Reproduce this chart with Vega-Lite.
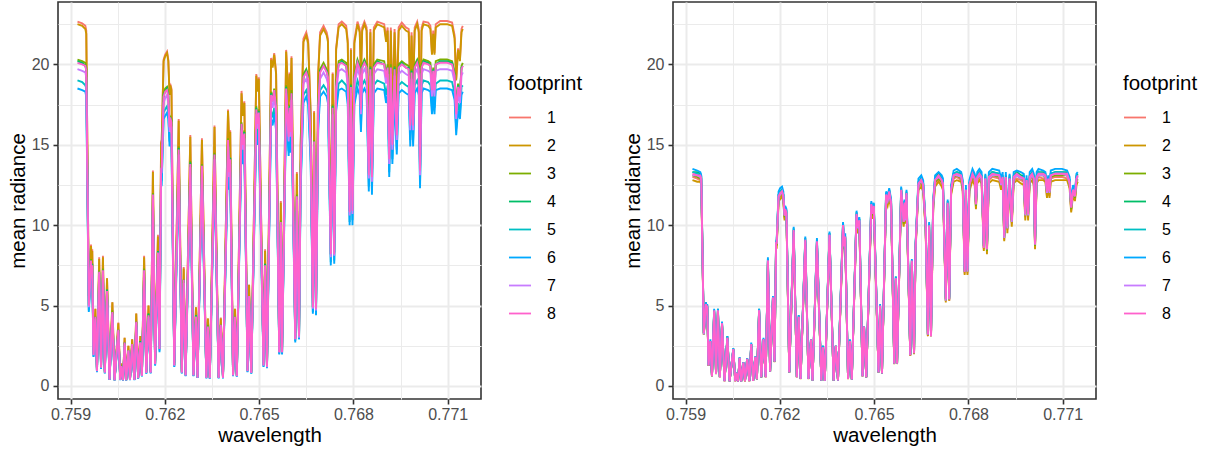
{
"$schema":"https://vega.github.io/schema/vega-lite/v6.json",
"padding":{"left":7,"top":1,"right":0,"bottom":0},
"config":{
"font":"Liberation Sans",
"view":{"stroke":"#333333","strokeWidth":1.6},
"axis":{"domain":false,"gridColor":"#EBEBEB","tickColor":"#333333","tickSize":5,"tickWidth":1.6,"labelColor":"#4D4D4D","labelFontSize":16,"titleFontSize":20.5,"titleFontWeight":"normal","titleColor":"#000000"},
"axisX":{"labelPadding":2,"titlePadding":3},
"axisY":{"labelPadding":4,"titlePadding":3},
"legend":{"orient":"none","legendX":450,"legendY":72,"direction":"vertical","symbolType":"stroke","symbolSize":484,"symbolStrokeWidth":1.8,"labelFontSize":16,"labelColor":"#000000","titleFontSize":20.5,"titleFontWeight":"normal","titleColor":"#000000","titlePadding":11,"rowPadding":8,"labelOffset":15,"padding":0}
},
"datasets":{
"left":[
{"w":0.75922,"1":22.66,"2":22.5,"3":20.3,"4":20.2,"5":19,"6":18.5,"7":19.7,"8":20.1},
{"w":0.75937,"1":22.55,"2":22.4,"3":20.2,"4":20.1,"5":18.9,"6":18.4,"7":19.6,"8":20},
{"w":0.75947,"1":22.4,"2":22.2,"3":20.1,"4":19.9,"5":18.7,"6":18.3,"7":19.5,"8":19.9},
{"w":0.7595,"1":22.1,"2":21.9,"3":19.8,"4":19.7,"5":18.5,"6":18,"7":19.2,"8":19.6},
{"w":0.75958,"1":5.6,"2":5.6,"3":5,"4":5,"5":4.7,"6":4.6,"7":4.9,"8":5},
{"w":0.75965,"1":8.8,"2":8.7,"3":7.9,"4":7.8,"5":7.4,"6":7.2,"7":7.6,"8":7.8},
{"w":0.75967,"1":7.9,"2":7.8,"3":7.1,"4":7,"5":6.6,"6":6.4,"7":6.9,"8":7},
{"w":0.75969,"1":8.5,"2":8.4,"3":7.6,"4":7.6,"5":7.1,"6":6.9,"7":7.4,"8":7.5},
{"w":0.75973,"1":2.2,"2":2.2,"3":2,"4":2,"5":1.84,"6":1.8,"7":1.91,"8":1.95},
{"w":0.75979,"1":4.8,"2":4.8,"3":4.3,"4":4.3,"5":4,"6":3.9,"7":4.2,"8":4.3},
{"w":0.75984,"1":1.05,"2":1.04,"3":0.94,"4":0.93,"5":0.88,"6":0.86,"7":0.91,"8":0.93},
{"w":0.75991,"1":8,"2":7.9,"3":7.2,"4":7.1,"5":6.7,"6":6.5,"7":7,"8":7.1},
{"w":0.75997,"1":1.3,"2":1.29,"3":1.16,"4":1.16,"5":1.09,"6":1.06,"7":1.13,"8":1.15},
{"w":0.76003,"1":8.1,"2":8,"3":7.3,"4":7.2,"5":6.8,"6":6.6,"7":7,"8":7.2},
{"w":0.76009,"1":0.95,"2":0.94,"3":0.85,"4":0.85,"5":0.8,"6":0.78,"7":0.83,"8":0.84},
{"w":0.76016,"1":6.7,"2":6.7,"3":6,"4":6,"5":5.6,"6":5.5,"7":5.8,"8":5.9},
{"w":0.76024,"1":0.45,"2":0.45,"3":0.4,"4":0.4,"5":0.38,"6":0.37,"7":0.39,"8":0.4},
{"w":0.76033,"1":5.2,"2":5.2,"3":4.7,"4":4.6,"5":4.4,"6":4.2,"7":4.5,"8":4.6},
{"w":0.7604,"1":0.38,"2":0.38,"3":0.36,"4":0.36,"5":0.35,"6":0.35,"7":0.36,"8":0.36},
{"w":0.76052,"1":3.95,"2":3.9,"3":3.5,"4":3.5,"5":3.3,"6":3.2,"7":3.4,"8":3.5},
{"w":0.76058,"1":0.42,"2":0.42,"3":0.39,"4":0.39,"5":0.37,"6":0.36,"7":0.38,"8":0.39},
{"w":0.76061,"1":1.4,"2":1.39,"3":1.25,"4":1.25,"5":1.17,"6":1.14,"7":1.22,"8":1.24},
{"w":0.76067,"1":0.38,"2":0.38,"3":0.36,"4":0.36,"5":0.35,"6":0.35,"7":0.36,"8":0.36},
{"w":0.76072,"1":3,"2":3,"3":2.7,"4":2.7,"5":2.5,"6":2.4,"7":2.6,"8":2.7},
{"w":0.76077,"1":0.38,"2":0.38,"3":0.36,"4":0.36,"5":0.35,"6":0.35,"7":0.36,"8":0.36},
{"w":0.76084,"1":2.5,"2":2.5,"3":2.2,"4":2.2,"5":2.1,"6":2,"7":2.2,"8":2.2},
{"w":0.76089,"1":0.42,"2":0.42,"3":0.39,"4":0.39,"5":0.37,"6":0.36,"7":0.38,"8":0.39},
{"w":0.76096,"1":2.9,"2":2.9,"3":2.6,"4":2.6,"5":2.4,"6":2.4,"7":2.5,"8":2.6},
{"w":0.76103,"1":0.42,"2":0.42,"3":0.39,"4":0.39,"5":0.37,"6":0.36,"7":0.38,"8":0.39},
{"w":0.76109,"1":4.5,"2":4.5,"3":4,"4":4,"5":3.8,"6":3.7,"7":3.9,"8":4},
{"w":0.76115,"1":0.55,"2":0.55,"3":0.49,"4":0.49,"5":0.46,"6":0.45,"7":0.48,"8":0.49},
{"w":0.76122,"1":3.1,"2":3.1,"3":2.8,"4":2.8,"5":2.6,"6":2.5,"7":2.7,"8":2.7},
{"w":0.76127,"1":0.72,"2":0.71,"3":0.65,"4":0.64,"5":0.6,"6":0.59,"7":0.63,"8":0.64},
{"w":0.76134,"1":8.1,"2":8,"3":7.3,"4":7.2,"5":6.8,"6":6.6,"7":7,"8":7.2},
{"w":0.76141,"1":0.93,"2":0.92,"3":0.83,"4":0.83,"5":0.78,"6":0.76,"7":0.81,"8":0.82},
{"w":0.76148,"1":5,"2":5,"3":4.5,"4":4.5,"5":4.2,"6":4.1,"7":4.3,"8":4.4},
{"w":0.76155,"1":0.95,"2":0.94,"3":0.85,"4":0.85,"5":0.8,"6":0.78,"7":0.83,"8":0.84},
{"w":0.76162,"1":13.4,"2":13.3,"3":12,"4":11.9,"5":11.2,"6":10.9,"7":11.6,"8":11.9},
{"w":0.76169,"1":1.55,"2":1.54,"3":1.39,"4":1.38,"5":1.3,"6":1.26,"7":1.35,"8":1.37},
{"w":0.76178,"1":9.4,"2":9.3,"3":8.4,"4":8.4,"5":7.9,"6":7.7,"7":8.2,"8":8.3},
{"w":0.76183,"1":2.6,"2":2.6,"3":2.3,"4":2.3,"5":2.2,"6":2.1,"7":2.3,"8":2.3},
{"w":0.76188,"1":15.2,"2":15.1,"3":13.6,"4":13.5,"5":12.7,"6":12.4,"7":13.2,"8":13.5},
{"w":0.7619,"1":15.3,"2":15.2,"3":13.7,"4":13.6,"5":12.8,"6":12.5,"7":13.3,"8":13.6},
{"w":0.76196,"1":20.3,"2":20.2,"3":18.2,"4":18.1,"5":17,"6":16.6,"7":17.6,"8":18},
{"w":0.76201,"1":20.6,"2":20.5,"3":18.5,"4":18.3,"5":17.2,"6":16.8,"7":17.9,"8":18.3},
{"w":0.76207,"1":20.8,"2":20.7,"3":18.6,"4":18.5,"5":17.4,"6":17,"7":18.1,"8":18.4},
{"w":0.76211,"1":20.3,"2":20.2,"3":18.2,"4":18.1,"5":17,"6":16.6,"7":17.6,"8":18},
{"w":0.76215,"1":18.2,"2":18.1,"3":16.3,"4":16.2,"5":15.2,"6":14.9,"7":15.8,"8":16.1},
{"w":0.76217,"1":18.8,"2":18.7,"3":16.8,"4":16.7,"5":15.7,"6":15.3,"7":16.3,"8":16.7},
{"w":0.76221,"1":18.5,"2":18.4,"3":16.6,"4":16.5,"5":15.5,"6":15.1,"7":16.1,"8":16.4},
{"w":0.7623,"1":1.45,"2":1.44,"3":1.3,"4":1.29,"5":1.21,"6":1.18,"7":1.26,"8":1.29},
{"w":0.76244,"1":16.6,"2":16.5,"3":14.9,"4":14.8,"5":13.9,"6":13.5,"7":14.4,"8":14.7},
{"w":0.76254,"1":0.95,"2":0.94,"3":0.85,"4":0.85,"5":0.8,"6":0.78,"7":0.83,"8":0.84},
{"w":0.7626,"1":7.4,"2":7.3,"3":6.6,"4":6.6,"5":6.2,"6":6,"7":6.4,"8":6.6},
{"w":0.76266,"1":0.75,"2":0.74,"3":0.67,"4":0.67,"5":0.63,"6":0.61,"7":0.65,"8":0.67},
{"w":0.76281,"1":15.6,"2":15.5,"3":14,"4":13.9,"5":13.1,"6":12.7,"7":13.6,"8":13.8},
{"w":0.76291,"1":0.75,"2":0.74,"3":0.67,"4":0.67,"5":0.63,"6":0.61,"7":0.65,"8":0.67},
{"w":0.76299,"1":4.9,"2":4.9,"3":4.4,"4":4.4,"5":4.1,"6":4,"7":4.3,"8":4.3},
{"w":0.76304,"1":0.6,"2":0.6,"3":0.54,"4":0.53,"5":0.5,"6":0.49,"7":0.52,"8":0.53},
{"w":0.76318,"1":15.4,"2":15.3,"3":13.8,"4":13.7,"5":12.9,"6":12.6,"7":13.4,"8":13.7},
{"w":0.76332,"1":0.58,"2":0.58,"3":0.52,"4":0.52,"5":0.49,"6":0.47,"7":0.5,"8":0.51},
{"w":0.76337,"1":4.2,"2":4.2,"3":3.8,"4":3.7,"5":3.5,"6":3.4,"7":3.6,"8":3.7},
{"w":0.76343,"1":0.55,"2":0.55,"3":0.49,"4":0.49,"5":0.46,"6":0.45,"7":0.48,"8":0.49},
{"w":0.76358,"1":16.2,"2":16.1,"3":14.5,"4":14.4,"5":13.6,"6":13.2,"7":14.1,"8":14.4},
{"w":0.76371,"1":0.58,"2":0.58,"3":0.52,"4":0.52,"5":0.49,"6":0.47,"7":0.5,"8":0.51},
{"w":0.76378,"1":4.25,"2":4.2,"3":3.8,"4":3.8,"5":3.6,"6":3.5,"7":3.7,"8":3.8},
{"w":0.76385,"1":0.58,"2":0.58,"3":0.52,"4":0.52,"5":0.49,"6":0.47,"7":0.5,"8":0.51},
{"w":0.76401,"1":17.2,"2":17.1,"3":15.4,"4":15.3,"5":14.4,"6":14,"7":14.9,"8":15.3},
{"w":0.76405,"1":15,"2":14.9,"3":13.4,"4":13.4,"5":12.6,"6":12.2,"7":13,"8":13.3},
{"w":0.76408,"1":15.9,"2":15.8,"3":14.2,"4":14.2,"5":13.3,"6":13,"7":13.8,"8":14.1},
{"w":0.76417,"1":0.75,"2":0.74,"3":0.67,"4":0.67,"5":0.63,"6":0.61,"7":0.65,"8":0.67},
{"w":0.76423,"1":4.8,"2":4.8,"3":4.3,"4":4.3,"5":4,"6":3.9,"7":4.2,"8":4.3},
{"w":0.76429,"1":0.7,"2":0.7,"3":0.63,"4":0.62,"5":0.59,"6":0.57,"7":0.61,"8":0.62},
{"w":0.76444,"1":18.35,"2":18.2,"3":16.4,"4":16.3,"5":15.4,"6":15,"7":15.9,"8":16.3},
{"w":0.76448,"1":16.9,"2":16.8,"3":15.1,"4":15,"5":14.1,"6":13.8,"7":14.7,"8":15},
{"w":0.76453,"1":17.7,"2":17.6,"3":15.9,"4":15.8,"5":14.8,"6":14.4,"7":15.4,"8":15.7},
{"w":0.76463,"1":1.05,"2":1.04,"3":0.94,"4":0.93,"5":0.88,"6":0.86,"7":0.91,"8":0.93},
{"w":0.76468,"1":6.3,"2":6.3,"3":5.6,"4":5.6,"5":5.3,"6":5.1,"7":5.5,"8":5.6},
{"w":0.76475,"1":0.93,"2":0.92,"3":0.83,"4":0.83,"5":0.78,"6":0.76,"7":0.81,"8":0.82},
{"w":0.76491,"1":19.4,"2":19.3,"3":17.4,"4":17.3,"5":16.2,"6":15.8,"7":16.9,"8":17.2},
{"w":0.76495,"1":18.4,"2":18.3,"3":16.5,"4":16.4,"5":15.4,"6":15,"7":16,"8":16.3},
{"w":0.76499,"1":19.2,"2":19.1,"3":17.2,"4":17.1,"5":16.1,"6":15.7,"7":16.7,"8":17},
{"w":0.76514,"1":1.45,"2":1.44,"3":1.3,"4":1.29,"5":1.21,"6":1.18,"7":1.26,"8":1.29},
{"w":0.76519,"1":8.5,"2":8.4,"3":7.6,"4":7.6,"5":7.1,"6":6.9,"7":7.4,"8":7.5},
{"w":0.76525,"1":1.35,"2":1.34,"3":1.21,"4":1.2,"5":1.13,"6":1.1,"7":1.17,"8":1.2},
{"w":0.76538,"1":20.4,"2":20.3,"3":18.3,"4":18.2,"5":17.1,"6":16.6,"7":17.7,"8":18.1},
{"w":0.76543,"1":19.9,"2":19.8,"3":17.8,"4":17.7,"5":16.7,"6":16.2,"7":17.3,"8":17.7},
{"w":0.76548,"1":20.7,"2":20.6,"3":18.5,"4":18.4,"5":17.3,"6":16.9,"7":18,"8":18.4},
{"w":0.76554,"1":19.5,"2":19.4,"3":17.5,"4":17.4,"5":16.3,"6":15.9,"7":16.9,"8":17.3},
{"w":0.76564,"1":2.4,"2":2.4,"3":2.2,"4":2.1,"5":2,"6":1.96,"7":2.1,"8":2.1},
{"w":0.76569,"1":11.5,"2":11.4,"3":10.3,"4":10.2,"5":9.6,"6":9.4,"7":10,"8":10.2},
{"w":0.76573,"1":2.4,"2":2.4,"3":2.2,"4":2.1,"5":2,"6":1.96,"7":2.1,"8":2.1},
{"w":0.76586,"1":20.9,"2":20.8,"3":18.7,"4":18.6,"5":17.5,"6":17.1,"7":18.2,"8":18.5},
{"w":0.76594,"1":17.5,"2":17.4,"3":15.7,"4":15.6,"5":14.6,"6":14.3,"7":15.2,"8":15.5},
{"w":0.76597,"1":19.5,"2":19.4,"3":17.5,"4":17.4,"5":16.3,"6":15.9,"7":16.9,"8":17.3},
{"w":0.766,"1":17.8,"2":17.7,"3":15.9,"4":15.8,"5":14.9,"6":14.5,"7":15.5,"8":15.8},
{"w":0.76603,"1":20.5,"2":20.4,"3":18.4,"4":18.2,"5":17.2,"6":16.7,"7":17.8,"8":18.2},
{"w":0.76615,"1":3.3,"2":3.3,"3":3,"4":2.9,"5":2.8,"6":2.7,"7":2.9,"8":2.9},
{"w":0.7662,"1":13.3,"2":13.2,"3":11.9,"4":11.8,"5":11.1,"6":10.9,"7":11.6,"8":11.8},
{"w":0.76627,"1":3.5,"2":3.5,"3":3.1,"4":3.1,"5":2.9,"6":2.9,"7":3,"8":3.1},
{"w":0.76632,"1":15,"2":14.9,"3":13.4,"4":13.4,"5":12.6,"6":12.2,"7":13,"8":13.3},
{"w":0.76641,"1":21.6,"2":21.4,"3":19.4,"4":19.2,"5":18.1,"6":17.6,"7":18.8,"8":19.2},
{"w":0.7665,"1":22,"2":21.8,"3":19.7,"4":19.6,"5":18.4,"6":18,"7":19.1,"8":19.5},
{"w":0.76656,"1":21.5,"2":21.3,"3":19.3,"4":19.1,"5":18,"6":17.5,"7":18.7,"8":19.1},
{"w":0.76664,"1":17,"2":16.9,"3":15.2,"4":15.1,"5":14.2,"6":13.9,"7":14.8,"8":15.1},
{"w":0.76671,"1":5.5,"2":5.5,"3":4.9,"4":4.9,"5":4.6,"6":4.5,"7":4.8,"8":4.9},
{"w":0.76675,"1":17.1,"2":17,"3":15.3,"4":15.2,"5":14.3,"6":14,"7":14.9,"8":15.2},
{"w":0.76681,"1":5.4,"2":5.4,"3":4.8,"4":4.8,"5":4.5,"6":4.4,"7":4.7,"8":4.8},
{"w":0.76688,"1":19.5,"2":19.4,"3":17.5,"4":17.4,"5":16.3,"6":15.9,"7":16.9,"8":17.3},
{"w":0.76694,"1":22,"2":21.8,"3":19.7,"4":19.6,"5":18.4,"6":18,"7":19.1,"8":19.5},
{"w":0.76705,"1":22.4,"2":22.2,"3":20.1,"4":19.9,"5":18.7,"6":18.3,"7":19.5,"8":19.9},
{"w":0.76715,"1":22,"2":21.8,"3":19.7,"4":19.6,"5":18.4,"6":18,"7":19.1,"8":19.5},
{"w":0.76719,"1":21.6,"2":21.4,"3":19.4,"4":19.2,"5":18.1,"6":17.6,"7":18.8,"8":19.2},
{"w":0.76728,"1":9.2,"2":9.1,"3":8.2,"4":8.2,"5":7.7,"6":7.5,"7":8,"8":8.2},
{"w":0.76734,"1":19.5,"2":19.4,"3":17.5,"4":17.4,"5":16.3,"6":15.9,"7":16.9,"8":17.3},
{"w":0.76739,"1":9.3,"2":9.2,"3":8.3,"4":8.3,"5":7.8,"6":7.6,"7":8.1,"8":8.2},
{"w":0.76745,"1":21,"2":20.9,"3":18.8,"4":18.7,"5":17.6,"6":17.1,"7":18.2,"8":18.6},
{"w":0.76753,"1":22.5,"2":22.3,"3":20.2,"4":20,"5":18.8,"6":18.4,"7":19.6,"8":20},
{"w":0.76763,"1":22.66,"2":22.5,"3":20.3,"4":20.2,"5":19,"6":18.5,"7":19.7,"8":20.1},
{"w":0.76777,"1":22.4,"2":22.2,"3":20.1,"4":19.9,"5":18.7,"6":18.3,"7":19.5,"8":19.9},
{"w":0.76782,"1":21.5,"2":21.3,"3":19.3,"4":19.1,"5":18,"6":17.5,"7":18.7,"8":19.1},
{"w":0.76788,"1":12.2,"2":12.1,"3":10.9,"4":10.9,"5":10.2,"6":10,"7":10.6,"8":10.8},
{"w":0.76792,"1":21,"2":20.9,"3":18.8,"4":18.7,"5":17.6,"6":17.1,"7":18.2,"8":18.6},
{"w":0.76797,"1":12.3,"2":12.2,"3":11,"4":10.9,"5":10.3,"6":10,"7":10.7,"8":10.9},
{"w":0.76803,"1":21.5,"2":21.3,"3":19.3,"4":19.1,"5":18,"6":17.5,"7":18.7,"8":19.1},
{"w":0.76813,"1":22.66,"2":22.5,"3":20.3,"4":20.2,"5":19,"6":18.5,"7":19.7,"8":20.1},
{"w":0.7682,"1":22.2,"2":22,"3":19.9,"4":19.8,"5":18.6,"6":18.1,"7":19.3,"8":19.7},
{"w":0.76824,"1":19.4,"2":19.3,"3":17.4,"4":17.3,"5":16.2,"6":15.8,"7":16.9,"8":17.2},
{"w":0.76828,"1":22.3,"2":22.1,"3":20,"4":19.8,"5":18.7,"6":18.2,"7":19.4,"8":19.8},
{"w":0.76835,"1":22.66,"2":22.5,"3":20.3,"4":20.2,"5":19,"6":18.5,"7":19.7,"8":20.1},
{"w":0.76842,"1":22.3,"2":22.1,"3":20,"4":19.8,"5":18.7,"6":18.2,"7":19.4,"8":19.8},
{"w":0.76849,"1":14.8,"2":14.7,"3":13.3,"4":13.2,"5":12.4,"6":12.1,"7":12.9,"8":13.1},
{"w":0.76854,"1":22.2,"2":22,"3":19.9,"4":19.8,"5":18.6,"6":18.1,"7":19.3,"8":19.7},
{"w":0.76859,"1":14.6,"2":14.5,"3":13.1,"4":13,"5":12.2,"6":11.9,"7":12.7,"8":13},
{"w":0.76865,"1":22.3,"2":22.1,"3":20,"4":19.8,"5":18.7,"6":18.2,"7":19.4,"8":19.8},
{"w":0.76876,"1":22.66,"2":22.5,"3":20.3,"4":20.2,"5":19,"6":18.5,"7":19.7,"8":20.1},
{"w":0.76898,"1":22.5,"2":22.3,"3":20.2,"4":20,"5":18.8,"6":18.4,"7":19.6,"8":20},
{"w":0.76904,"1":21.6,"2":21.4,"3":19.4,"4":19.2,"5":18.1,"6":17.6,"7":18.8,"8":19.2},
{"w":0.76909,"1":22.3,"2":22.1,"3":20,"4":19.8,"5":18.7,"6":18.2,"7":19.4,"8":19.8},
{"w":0.76914,"1":15.9,"2":15.8,"3":14.2,"4":14.2,"5":13.3,"6":13,"7":13.8,"8":14.1},
{"w":0.76919,"1":22.3,"2":22.1,"3":20,"4":19.8,"5":18.7,"6":18.2,"7":19.4,"8":19.8},
{"w":0.76924,"1":16.9,"2":16.8,"3":15.1,"4":15,"5":14.1,"6":13.8,"7":14.7,"8":15},
{"w":0.76931,"1":22.2,"2":22,"3":19.9,"4":19.8,"5":18.6,"6":18.1,"7":19.3,"8":19.7},
{"w":0.76938,"1":17.6,"2":17.5,"3":15.8,"4":15.7,"5":14.7,"6":14.4,"7":15.3,"8":15.6},
{"w":0.76944,"1":22.3,"2":22.1,"3":20,"4":19.8,"5":18.7,"6":18.2,"7":19.4,"8":19.8},
{"w":0.76954,"1":22.6,"2":22.4,"3":20.2,"4":20.1,"5":18.9,"6":18.4,"7":19.6,"8":20},
{"w":0.76967,"1":22.3,"2":22.1,"3":20,"4":19.8,"5":18.7,"6":18.2,"7":19.4,"8":19.8},
{"w":0.76976,"1":22.2,"2":22,"3":19.9,"4":19.8,"5":18.6,"6":18.1,"7":19.3,"8":19.7},
{"w":0.76981,"1":18.3,"2":18.2,"3":16.4,"4":16.3,"5":15.3,"6":14.9,"7":15.9,"8":16.2},
{"w":0.76985,"1":22,"2":21.8,"3":19.7,"4":19.6,"5":18.4,"6":18,"7":19.1,"8":19.5},
{"w":0.7699,"1":18.3,"2":18.2,"3":16.4,"4":16.3,"5":15.3,"6":14.9,"7":15.9,"8":16.2},
{"w":0.76995,"1":22.3,"2":22.1,"3":20,"4":19.8,"5":18.7,"6":18.2,"7":19.4,"8":19.8},
{"w":0.77003,"1":22.66,"2":22.5,"3":20.3,"4":20.2,"5":19,"6":18.5,"7":19.7,"8":20.1},
{"w":0.77008,"1":22.2,"2":22,"3":19.9,"4":19.8,"5":18.6,"6":18.1,"7":19.3,"8":19.7},
{"w":0.77012,"1":15.1,"2":15,"3":13.5,"4":13.4,"5":12.6,"6":12.3,"7":13.1,"8":13.4},
{"w":0.77017,"1":22.3,"2":22.1,"3":20,"4":19.8,"5":18.7,"6":18.2,"7":19.4,"8":19.8},
{"w":0.77023,"1":22.66,"2":22.5,"3":20.3,"4":20.2,"5":19,"6":18.5,"7":19.7,"8":20.1},
{"w":0.77038,"1":22.6,"2":22.4,"3":20.2,"4":20.1,"5":18.9,"6":18.4,"7":19.6,"8":20},
{"w":0.77045,"1":22.4,"2":22.2,"3":20.1,"4":19.9,"5":18.7,"6":18.3,"7":19.5,"8":19.9},
{"w":0.7705,"1":20.7,"2":20.6,"3":18.5,"4":18.4,"5":17.3,"6":16.9,"7":18,"8":18.4},
{"w":0.77054,"1":22.1,"2":21.9,"3":19.8,"4":19.7,"5":18.5,"6":18,"7":19.2,"8":19.6},
{"w":0.77058,"1":20.7,"2":20.6,"3":18.5,"4":18.4,"5":17.3,"6":16.9,"7":18,"8":18.4},
{"w":0.77062,"1":22.5,"2":22.3,"3":20.2,"4":20,"5":18.8,"6":18.4,"7":19.6,"8":20},
{"w":0.77076,"1":22.7,"2":22.5,"3":20.3,"4":20.2,"5":19,"6":18.5,"7":19.7,"8":20.1},
{"w":0.77098,"1":22.7,"2":22.5,"3":20.3,"4":20.2,"5":19,"6":18.5,"7":19.7,"8":20.1},
{"w":0.77114,"1":22.6,"2":22.4,"3":20.2,"4":20.1,"5":18.9,"6":18.4,"7":19.6,"8":20},
{"w":0.77122,"1":21.8,"2":21.6,"3":19.5,"4":19.4,"5":18.2,"6":17.8,"7":18.9,"8":19.3},
{"w":0.77127,"1":19.1,"2":19,"3":17.1,"4":17,"5":16,"6":15.6,"7":16.6,"8":16.9},
{"w":0.77133,"1":21,"2":20.9,"3":18.8,"4":18.7,"5":17.6,"6":17.1,"7":18.2,"8":18.6},
{"w":0.77139,"1":20.3,"2":20.2,"3":18.2,"4":18.1,"5":17,"6":16.6,"7":17.6,"8":18},
{"w":0.77144,"1":22.2,"2":22,"3":19.9,"4":19.8,"5":18.6,"6":18.1,"7":19.3,"8":19.7},
{"w":0.77148,"1":22.4,"2":22.2,"3":20.1,"4":19.9,"5":18.7,"6":18.3,"7":19.5,"8":19.9}
],
"right":[
{"w":0.75922,"1":13,"2":12.8,"3":13.1,"4":13.3,"5":13.3,"6":13.5,"7":13.1,"8":13.2},
{"w":0.75937,"1":12.9,"2":12.7,"3":13,"4":13.3,"5":13.2,"6":13.4,"7":13.1,"8":13.1},
{"w":0.75947,"1":12.8,"2":12.7,"3":12.9,"4":13.2,"5":13.1,"6":13.3,"7":13,"8":13.1},
{"w":0.7595,"1":12.6,"2":12.5,"3":12.8,"4":13,"5":12.9,"6":13.1,"7":12.8,"8":12.9},
{"w":0.75958,"1":3.2,"2":3.2,"3":3.2,"4":3.3,"5":3.3,"6":3.3,"7":3.2,"8":3.3},
{"w":0.75965,"1":5,"2":5,"3":5.1,"4":5.2,"5":5.1,"6":5.2,"7":5.1,"8":5.1},
{"w":0.75967,"1":4.5,"2":4.5,"3":4.6,"4":4.6,"5":4.6,"6":4.7,"7":4.6,"8":4.6},
{"w":0.75969,"1":4.9,"2":4.8,"3":4.9,"4":5,"5":5,"6":5.1,"7":4.9,"8":5},
{"w":0.75973,"1":1.26,"2":1.24,"3":1.27,"4":1.29,"5":1.29,"6":1.31,"7":1.28,"8":1.28},
{"w":0.75979,"1":2.7,"2":2.7,"3":2.8,"4":2.8,"5":2.8,"6":2.9,"7":2.8,"8":2.8},
{"w":0.75984,"1":0.6,"2":0.59,"3":0.61,"4":0.62,"5":0.61,"6":0.62,"7":0.61,"8":0.61},
{"w":0.75991,"1":4.6,"2":4.5,"3":4.6,"4":4.7,"5":4.7,"6":4.8,"7":4.6,"8":4.7},
{"w":0.75997,"1":0.74,"2":0.73,"3":0.75,"4":0.76,"5":0.76,"6":0.77,"7":0.75,"8":0.76},
{"w":0.76003,"1":4.6,"2":4.6,"3":4.7,"4":4.8,"5":4.7,"6":4.8,"7":4.7,"8":4.7},
{"w":0.76009,"1":0.54,"2":0.54,"3":0.55,"4":0.56,"5":0.56,"6":0.57,"7":0.55,"8":0.55},
{"w":0.76016,"1":3.8,"2":3.8,"3":3.9,"4":3.9,"5":3.9,"6":4,"7":3.9,"8":3.9},
{"w":0.76024,"1":0.3,"2":0.3,"3":0.3,"4":0.31,"5":0.31,"6":0.31,"7":0.3,"8":0.3},
{"w":0.76033,"1":3,"2":2.9,"3":3,"4":3.1,"5":3,"6":3.1,"7":3,"8":3},
{"w":0.7604,"1":0.28,"2":0.28,"3":0.29,"4":0.29,"5":0.29,"6":0.3,"7":0.29,"8":0.29},
{"w":0.76052,"1":2.26,"2":2.23,"3":2.28,"4":2.32,"5":2.31,"6":2.35,"7":2.29,"8":2.3},
{"w":0.76058,"1":0.3,"2":0.29,"3":0.3,"4":0.31,"5":0.31,"6":0.31,"7":0.3,"8":0.3},
{"w":0.76061,"1":0.8,"2":0.79,"3":0.81,"4":0.82,"5":0.82,"6":0.83,"7":0.81,"8":0.82},
{"w":0.76067,"1":0.28,"2":0.28,"3":0.29,"4":0.29,"5":0.29,"6":0.3,"7":0.29,"8":0.29},
{"w":0.76072,"1":1.72,"2":1.7,"3":1.73,"4":1.76,"5":1.76,"6":1.79,"7":1.74,"8":1.75},
{"w":0.76077,"1":0.28,"2":0.28,"3":0.29,"4":0.29,"5":0.29,"6":0.3,"7":0.29,"8":0.29},
{"w":0.76084,"1":1.43,"2":1.41,"3":1.45,"4":1.47,"5":1.46,"6":1.49,"7":1.45,"8":1.46},
{"w":0.76089,"1":0.3,"2":0.29,"3":0.3,"4":0.31,"5":0.31,"6":0.31,"7":0.3,"8":0.3},
{"w":0.76096,"1":1.66,"2":1.64,"3":1.68,"4":1.71,"5":1.7,"6":1.73,"7":1.68,"8":1.69},
{"w":0.76103,"1":0.3,"2":0.29,"3":0.3,"4":0.31,"5":0.31,"6":0.31,"7":0.3,"8":0.3},
{"w":0.76109,"1":2.6,"2":2.5,"3":2.6,"4":2.6,"5":2.6,"6":2.7,"7":2.6,"8":2.6},
{"w":0.76115,"1":0.32,"2":0.31,"3":0.32,"4":0.32,"5":0.32,"6":0.33,"7":0.32,"8":0.32},
{"w":0.76122,"1":1.77,"2":1.75,"3":1.79,"4":1.82,"5":1.81,"6":1.84,"7":1.8,"8":1.81},
{"w":0.76127,"1":0.41,"2":0.41,"3":0.42,"4":0.42,"5":0.42,"6":0.43,"7":0.42,"8":0.42},
{"w":0.76134,"1":4.6,"2":4.6,"3":4.7,"4":4.8,"5":4.7,"6":4.8,"7":4.7,"8":4.7},
{"w":0.76141,"1":0.53,"2":0.53,"3":0.54,"4":0.55,"5":0.54,"6":0.55,"7":0.54,"8":0.54},
{"w":0.76148,"1":2.9,"2":2.8,"3":2.9,"4":2.9,"5":2.9,"6":3,"7":2.9,"8":2.9},
{"w":0.76155,"1":0.54,"2":0.54,"3":0.55,"4":0.56,"5":0.56,"6":0.57,"7":0.55,"8":0.55},
{"w":0.76162,"1":7.7,"2":7.6,"3":7.7,"4":7.9,"5":7.8,"6":8,"7":7.8,"8":7.8},
{"w":0.76169,"1":0.89,"2":0.88,"3":0.9,"4":0.91,"5":0.91,"6":0.92,"7":0.9,"8":0.9},
{"w":0.76178,"1":5.4,"2":5.3,"3":5.4,"4":5.5,"5":5.5,"6":5.6,"7":5.5,"8":5.5},
{"w":0.76183,"1":1.49,"2":1.47,"3":1.5,"4":1.53,"5":1.52,"6":1.55,"7":1.51,"8":1.52},
{"w":0.76188,"1":8.7,"2":8.6,"3":8.8,"4":8.9,"5":8.9,"6":9,"7":8.8,"8":8.9},
{"w":0.7619,"1":8.8,"2":8.6,"3":8.8,"4":9,"5":9,"6":9.1,"7":8.9,"8":8.9},
{"w":0.76196,"1":11.6,"2":11.5,"3":11.7,"4":11.9,"5":11.9,"6":12.1,"7":11.8,"8":11.8},
{"w":0.76201,"1":11.8,"2":11.6,"3":11.9,"4":12.1,"5":12.1,"6":12.3,"7":11.9,"8":12},
{"w":0.76207,"1":11.9,"2":11.8,"3":12,"4":12.2,"5":12.2,"6":12.4,"7":12.1,"8":12.1},
{"w":0.76211,"1":11.6,"2":11.5,"3":11.7,"4":11.9,"5":11.9,"6":12.1,"7":11.8,"8":11.8},
{"w":0.76215,"1":10.4,"2":10.3,"3":10.5,"4":10.7,"5":10.6,"6":10.8,"7":10.6,"8":10.6},
{"w":0.76217,"1":10.8,"2":10.6,"3":10.9,"4":11.1,"5":11,"6":11.2,"7":10.9,"8":11},
{"w":0.76221,"1":10.6,"2":10.5,"3":10.7,"4":10.9,"5":10.8,"6":11,"7":10.7,"8":10.8},
{"w":0.7623,"1":0.83,"2":0.82,"3":0.84,"4":0.85,"5":0.85,"6":0.86,"7":0.84,"8":0.85},
{"w":0.76244,"1":9.5,"2":9.4,"3":9.6,"4":9.8,"5":9.7,"6":9.9,"7":9.6,"8":9.7},
{"w":0.76254,"1":0.54,"2":0.54,"3":0.55,"4":0.56,"5":0.56,"6":0.57,"7":0.55,"8":0.55},
{"w":0.7626,"1":4.2,"2":4.2,"3":4.3,"4":4.4,"5":4.3,"6":4.4,"7":4.3,"8":4.3},
{"w":0.76266,"1":0.43,"2":0.42,"3":0.43,"4":0.44,"5":0.44,"6":0.45,"7":0.44,"8":0.44},
{"w":0.76281,"1":8.9,"2":8.8,"3":9,"4":9.2,"5":9.1,"6":9.3,"7":9,"8":9.1},
{"w":0.76291,"1":0.43,"2":0.42,"3":0.43,"4":0.44,"5":0.44,"6":0.45,"7":0.44,"8":0.44},
{"w":0.76299,"1":2.8,"2":2.8,"3":2.8,"4":2.9,"5":2.9,"6":2.9,"7":2.8,"8":2.9},
{"w":0.76304,"1":0.34,"2":0.34,"3":0.35,"4":0.35,"5":0.35,"6":0.36,"7":0.35,"8":0.35},
{"w":0.76318,"1":8.8,"2":8.7,"3":8.9,"4":9.1,"5":9,"6":9.2,"7":8.9,"8":9},
{"w":0.76332,"1":0.33,"2":0.33,"3":0.34,"4":0.34,"5":0.34,"6":0.35,"7":0.34,"8":0.34},
{"w":0.76337,"1":2.4,"2":2.4,"3":2.4,"4":2.5,"5":2.5,"6":2.5,"7":2.4,"8":2.4},
{"w":0.76343,"1":0.32,"2":0.31,"3":0.32,"4":0.32,"5":0.32,"6":0.33,"7":0.32,"8":0.32},
{"w":0.76358,"1":9.3,"2":9.2,"3":9.4,"4":9.5,"5":9.5,"6":9.6,"7":9.4,"8":9.4},
{"w":0.76371,"1":0.33,"2":0.33,"3":0.34,"4":0.34,"5":0.34,"6":0.35,"7":0.34,"8":0.34},
{"w":0.76378,"1":2.4,"2":2.4,"3":2.5,"4":2.5,"5":2.5,"6":2.5,"7":2.5,"8":2.5},
{"w":0.76385,"1":0.33,"2":0.33,"3":0.34,"4":0.34,"5":0.34,"6":0.35,"7":0.34,"8":0.34},
{"w":0.76401,"1":9.8,"2":9.7,"3":9.9,"4":10.1,"5":10.1,"6":10.2,"7":10,"8":10},
{"w":0.76405,"1":8.6,"2":8.5,"3":8.7,"4":8.8,"5":8.8,"6":8.9,"7":8.7,"8":8.7},
{"w":0.76408,"1":9.1,"2":9,"3":9.2,"4":9.3,"5":9.3,"6":9.5,"7":9.2,"8":9.3},
{"w":0.76417,"1":0.43,"2":0.42,"3":0.43,"4":0.44,"5":0.44,"6":0.45,"7":0.44,"8":0.44},
{"w":0.76423,"1":2.7,"2":2.7,"3":2.8,"4":2.8,"5":2.8,"6":2.9,"7":2.8,"8":2.8},
{"w":0.76429,"1":0.4,"2":0.4,"3":0.4,"4":0.41,"5":0.41,"6":0.42,"7":0.41,"8":0.41},
{"w":0.76444,"1":10.5,"2":10.4,"3":10.6,"4":10.8,"5":10.7,"6":10.9,"7":10.6,"8":10.7},
{"w":0.76448,"1":9.7,"2":9.5,"3":9.8,"4":9.9,"5":9.9,"6":10.1,"7":9.8,"8":9.9},
{"w":0.76453,"1":10.1,"2":10,"3":10.2,"4":10.4,"5":10.4,"6":10.5,"7":10.3,"8":10.3},
{"w":0.76463,"1":0.6,"2":0.59,"3":0.61,"4":0.62,"5":0.61,"6":0.62,"7":0.61,"8":0.61},
{"w":0.76468,"1":3.6,"2":3.6,"3":3.6,"4":3.7,"5":3.7,"6":3.7,"7":3.7,"8":3.7},
{"w":0.76475,"1":0.53,"2":0.53,"3":0.54,"4":0.55,"5":0.54,"6":0.55,"7":0.54,"8":0.54},
{"w":0.76491,"1":11.1,"2":11,"3":11.2,"4":11.4,"5":11.3,"6":11.5,"7":11.3,"8":11.3},
{"w":0.76495,"1":10.5,"2":10.4,"3":10.6,"4":10.8,"5":10.8,"6":10.9,"7":10.7,"8":10.7},
{"w":0.76499,"1":11,"2":10.8,"3":11.1,"4":11.3,"5":11.2,"6":11.4,"7":11.1,"8":11.2},
{"w":0.76514,"1":0.83,"2":0.82,"3":0.84,"4":0.85,"5":0.85,"6":0.86,"7":0.84,"8":0.85},
{"w":0.76519,"1":4.9,"2":4.8,"3":4.9,"4":5,"5":5,"6":5.1,"7":4.9,"8":5},
{"w":0.76525,"1":0.77,"2":0.76,"3":0.78,"4":0.79,"5":0.79,"6":0.8,"7":0.78,"8":0.79},
{"w":0.76538,"1":11.7,"2":11.5,"3":11.8,"4":12,"5":11.9,"6":12.1,"7":11.8,"8":11.9},
{"w":0.76543,"1":11.4,"2":11.2,"3":11.5,"4":11.7,"5":11.6,"6":11.8,"7":11.5,"8":11.6},
{"w":0.76548,"1":11.8,"2":11.7,"3":12,"4":12.2,"5":12.1,"6":12.3,"7":12,"8":12.1},
{"w":0.76554,"1":11.2,"2":11,"3":11.3,"4":11.5,"5":11.4,"6":11.6,"7":11.3,"8":11.4},
{"w":0.76564,"1":1.37,"2":1.36,"3":1.39,"4":1.41,"5":1.4,"6":1.43,"7":1.39,"8":1.4},
{"w":0.76569,"1":6.6,"2":6.5,"3":6.6,"4":6.8,"5":6.7,"6":6.8,"7":6.7,"8":6.7},
{"w":0.76573,"1":1.37,"2":1.36,"3":1.39,"4":1.41,"5":1.4,"6":1.43,"7":1.39,"8":1.4},
{"w":0.76586,"1":12,"2":11.8,"3":12.1,"4":12.3,"5":12.2,"6":12.4,"7":12.1,"8":12.2},
{"w":0.76594,"1":10,"2":9.9,"3":10.1,"4":10.3,"5":10.2,"6":10.4,"7":10.2,"8":10.2},
{"w":0.76597,"1":11.2,"2":11,"3":11.3,"4":11.5,"5":11.4,"6":11.6,"7":11.3,"8":11.4},
{"w":0.766,"1":10.2,"2":10.1,"3":10.3,"4":10.5,"5":10.4,"6":10.6,"7":10.3,"8":10.4},
{"w":0.76603,"1":11.7,"2":11.6,"3":11.8,"4":12.1,"5":12,"6":12.2,"7":11.9,"8":12},
{"w":0.76615,"1":1.89,"2":1.86,"3":1.91,"4":1.94,"5":1.93,"6":1.96,"7":1.91,"8":1.92},
{"w":0.7662,"1":7.6,"2":7.5,"3":7.7,"4":7.8,"5":7.8,"6":7.9,"7":7.7,"8":7.8},
{"w":0.76627,"1":2,"2":1.98,"3":2.02,"4":2.06,"5":2.05,"6":2.08,"7":2.03,"8":2.04},
{"w":0.76632,"1":8.6,"2":8.5,"3":8.7,"4":8.8,"5":8.8,"6":8.9,"7":8.7,"8":8.7},
{"w":0.76641,"1":12.4,"2":12.2,"3":12.5,"4":12.7,"5":12.6,"6":12.9,"7":12.5,"8":12.6},
{"w":0.7665,"1":12.6,"2":12.4,"3":12.7,"4":12.9,"5":12.9,"6":13.1,"7":12.8,"8":12.8},
{"w":0.76656,"1":12.3,"2":12.1,"3":12.4,"4":12.6,"5":12.6,"6":12.8,"7":12.5,"8":12.5},
{"w":0.76664,"1":9.7,"2":9.6,"3":9.8,"4":10,"5":9.9,"6":10.1,"7":9.9,"8":9.9},
{"w":0.76671,"1":3.1,"2":3.1,"3":3.2,"4":3.2,"5":3.2,"6":3.3,"7":3.2,"8":3.2},
{"w":0.76675,"1":9.8,"2":9.7,"3":9.9,"4":10.1,"5":10,"6":10.2,"7":9.9,"8":10},
{"w":0.76681,"1":3.1,"2":3.1,"3":3.1,"4":3.2,"5":3.2,"6":3.2,"7":3.1,"8":3.1},
{"w":0.76688,"1":11.2,"2":11,"3":11.3,"4":11.5,"5":11.4,"6":11.6,"7":11.3,"8":11.4},
{"w":0.76694,"1":12.6,"2":12.4,"3":12.7,"4":12.9,"5":12.9,"6":13.1,"7":12.8,"8":12.8},
{"w":0.76705,"1":12.8,"2":12.7,"3":12.9,"4":13.2,"5":13.1,"6":13.3,"7":13,"8":13.1},
{"w":0.76715,"1":12.6,"2":12.4,"3":12.7,"4":12.9,"5":12.9,"6":13.1,"7":12.8,"8":12.8},
{"w":0.76719,"1":12.4,"2":12.2,"3":12.5,"4":12.7,"5":12.6,"6":12.9,"7":12.5,"8":12.6},
{"w":0.76728,"1":5.3,"2":5.2,"3":5.3,"4":5.4,"5":5.4,"6":5.5,"7":5.3,"8":5.4},
{"w":0.76734,"1":11.2,"2":11,"3":11.3,"4":11.5,"5":11.4,"6":11.6,"7":11.3,"8":11.4},
{"w":0.76739,"1":5.3,"2":5.3,"3":5.4,"4":5.5,"5":5.4,"6":5.5,"7":5.4,"8":5.4},
{"w":0.76745,"1":12,"2":11.9,"3":12.1,"4":12.3,"5":12.3,"6":12.5,"7":12.2,"8":12.2},
{"w":0.76753,"1":12.9,"2":12.7,"3":13,"4":13.2,"5":13.2,"6":13.4,"7":13.1,"8":13.1},
{"w":0.76763,"1":13,"2":12.8,"3":13.1,"4":13.3,"5":13.3,"6":13.5,"7":13.1,"8":13.2},
{"w":0.76777,"1":12.8,"2":12.7,"3":12.9,"4":13.2,"5":13.1,"6":13.3,"7":13,"8":13.1},
{"w":0.76782,"1":12.3,"2":12.1,"3":12.4,"4":12.6,"5":12.6,"6":12.8,"7":12.5,"8":12.5},
{"w":0.76788,"1":7,"2":6.9,"3":7.1,"4":7.2,"5":7.1,"6":7.3,"7":7.1,"8":7.1},
{"w":0.76792,"1":12,"2":11.9,"3":12.1,"4":12.3,"5":12.3,"6":12.5,"7":12.2,"8":12.2},
{"w":0.76797,"1":7,"2":6.9,"3":7.1,"4":7.2,"5":7.2,"6":7.3,"7":7.1,"8":7.2},
{"w":0.76803,"1":12.3,"2":12.1,"3":12.4,"4":12.6,"5":12.6,"6":12.8,"7":12.5,"8":12.5},
{"w":0.76813,"1":13,"2":12.8,"3":13.1,"4":13.3,"5":13.3,"6":13.5,"7":13.1,"8":13.2},
{"w":0.7682,"1":12.7,"2":12.5,"3":12.8,"4":13.1,"5":13,"6":13.2,"7":12.9,"8":12.9},
{"w":0.76824,"1":11.1,"2":11,"3":11.2,"4":11.4,"5":11.3,"6":11.5,"7":11.3,"8":11.3},
{"w":0.76828,"1":12.8,"2":12.6,"3":12.9,"4":13.1,"5":13,"6":13.3,"7":12.9,"8":13},
{"w":0.76835,"1":13,"2":12.8,"3":13.1,"4":13.3,"5":13.3,"6":13.5,"7":13.1,"8":13.2},
{"w":0.76842,"1":12.8,"2":12.6,"3":12.9,"4":13.1,"5":13,"6":13.3,"7":12.9,"8":13},
{"w":0.76849,"1":8.5,"2":8.4,"3":8.6,"4":8.7,"5":8.7,"6":8.8,"7":8.6,"8":8.6},
{"w":0.76854,"1":12.7,"2":12.5,"3":12.8,"4":13.1,"5":13,"6":13.2,"7":12.9,"8":12.9},
{"w":0.76859,"1":8.4,"2":8.2,"3":8.4,"4":8.6,"5":8.5,"6":8.7,"7":8.5,"8":8.5},
{"w":0.76865,"1":12.8,"2":12.6,"3":12.9,"4":13.1,"5":13,"6":13.3,"7":12.9,"8":13},
{"w":0.76876,"1":13,"2":12.8,"3":13.1,"4":13.3,"5":13.3,"6":13.5,"7":13.1,"8":13.2},
{"w":0.76898,"1":12.9,"2":12.7,"3":13,"4":13.2,"5":13.2,"6":13.4,"7":13.1,"8":13.1},
{"w":0.76904,"1":12.4,"2":12.2,"3":12.5,"4":12.7,"5":12.6,"6":12.9,"7":12.5,"8":12.6},
{"w":0.76909,"1":12.8,"2":12.6,"3":12.9,"4":13.1,"5":13,"6":13.3,"7":12.9,"8":13},
{"w":0.76914,"1":9.1,"2":9,"3":9.2,"4":9.3,"5":9.3,"6":9.5,"7":9.2,"8":9.3},
{"w":0.76919,"1":12.8,"2":12.6,"3":12.9,"4":13.1,"5":13,"6":13.3,"7":12.9,"8":13},
{"w":0.76924,"1":9.7,"2":9.5,"3":9.8,"4":9.9,"5":9.9,"6":10.1,"7":9.8,"8":9.9},
{"w":0.76931,"1":12.7,"2":12.5,"3":12.8,"4":13.1,"5":13,"6":13.2,"7":12.9,"8":12.9},
{"w":0.76938,"1":10.1,"2":9.9,"3":10.2,"4":10.3,"5":10.3,"6":10.5,"7":10.2,"8":10.3},
{"w":0.76944,"1":12.8,"2":12.6,"3":12.9,"4":13.1,"5":13,"6":13.3,"7":12.9,"8":13},
{"w":0.76954,"1":12.9,"2":12.8,"3":13.1,"4":13.3,"5":13.2,"6":13.4,"7":13.1,"8":13.2},
{"w":0.76967,"1":12.8,"2":12.6,"3":12.9,"4":13.1,"5":13,"6":13.3,"7":12.9,"8":13},
{"w":0.76976,"1":12.7,"2":12.5,"3":12.8,"4":13.1,"5":13,"6":13.2,"7":12.9,"8":12.9},
{"w":0.76981,"1":10.5,"2":10.3,"3":10.6,"4":10.8,"5":10.7,"6":10.9,"7":10.6,"8":10.7},
{"w":0.76985,"1":12.6,"2":12.4,"3":12.7,"4":12.9,"5":12.9,"6":13.1,"7":12.8,"8":12.8},
{"w":0.7699,"1":10.5,"2":10.3,"3":10.6,"4":10.8,"5":10.7,"6":10.9,"7":10.6,"8":10.7},
{"w":0.76995,"1":12.8,"2":12.6,"3":12.9,"4":13.1,"5":13,"6":13.3,"7":12.9,"8":13},
{"w":0.77003,"1":13,"2":12.8,"3":13.1,"4":13.3,"5":13.3,"6":13.5,"7":13.1,"8":13.2},
{"w":0.77008,"1":12.7,"2":12.5,"3":12.8,"4":13.1,"5":13,"6":13.2,"7":12.9,"8":12.9},
{"w":0.77012,"1":8.6,"2":8.5,"3":8.7,"4":8.9,"5":8.8,"6":9,"7":8.8,"8":8.8},
{"w":0.77017,"1":12.8,"2":12.6,"3":12.9,"4":13.1,"5":13,"6":13.3,"7":12.9,"8":13},
{"w":0.77023,"1":13,"2":12.8,"3":13.1,"4":13.3,"5":13.3,"6":13.5,"7":13.1,"8":13.2},
{"w":0.77038,"1":12.9,"2":12.8,"3":13.1,"4":13.3,"5":13.2,"6":13.4,"7":13.1,"8":13.2},
{"w":0.77045,"1":12.8,"2":12.7,"3":12.9,"4":13.2,"5":13.1,"6":13.3,"7":13,"8":13.1},
{"w":0.7705,"1":11.8,"2":11.7,"3":12,"4":12.2,"5":12.1,"6":12.3,"7":12,"8":12.1},
{"w":0.77054,"1":12.6,"2":12.5,"3":12.8,"4":13,"5":12.9,"6":13.1,"7":12.8,"8":12.9},
{"w":0.77058,"1":11.8,"2":11.7,"3":12,"4":12.2,"5":12.1,"6":12.3,"7":12,"8":12.1},
{"w":0.77062,"1":12.9,"2":12.7,"3":13,"4":13.2,"5":13.2,"6":13.4,"7":13.1,"8":13.1},
{"w":0.77076,"1":13,"2":12.8,"3":13.1,"4":13.3,"5":13.3,"6":13.5,"7":13.2,"8":13.2},
{"w":0.77098,"1":13,"2":12.8,"3":13.1,"4":13.3,"5":13.3,"6":13.5,"7":13.2,"8":13.2},
{"w":0.77114,"1":12.9,"2":12.8,"3":13.1,"4":13.3,"5":13.2,"6":13.4,"7":13.1,"8":13.2},
{"w":0.77122,"1":12.5,"2":12.3,"3":12.6,"4":12.8,"5":12.8,"6":13,"7":12.6,"8":12.7},
{"w":0.77127,"1":10.9,"2":10.8,"3":11,"4":11.2,"5":11.2,"6":11.4,"7":11.1,"8":11.1},
{"w":0.77133,"1":12,"2":11.9,"3":12.1,"4":12.3,"5":12.3,"6":12.5,"7":12.2,"8":12.2},
{"w":0.77139,"1":11.6,"2":11.5,"3":11.7,"4":11.9,"5":11.9,"6":12.1,"7":11.8,"8":11.8},
{"w":0.77144,"1":12.7,"2":12.5,"3":12.8,"4":13.1,"5":13,"6":13.2,"7":12.9,"8":12.9},
{"w":0.77148,"1":12.8,"2":12.7,"3":12.9,"4":13.2,"5":13.1,"6":13.3,"7":13,"8":13.1}
]
},
"spacing":38,
"resolve":{"scale":{"color":"independent"},"legend":{"color":"independent"}},
"hconcat":[
{
"width":423,"height":397,
"data":{"name":"left"},
"transform":[{"fold":["1","2","3","4","5","6","7","8"],"as":["footprint","radiance"]}],
"mark":{"type":"line","strokeWidth":1.9},
"encoding":{
"x":{"field":"w","type":"quantitative","title":"wavelength","scale":{"domain":[0.7586,0.77206],"nice":false,"zero":false},
"axis":{"values":[0.759,0.7605,0.762,0.7635,0.765,0.7665,0.768,0.7695,0.771],"format":".3f","labelExpr":"abs(datum.value*1000-round(datum.value*1000))<0.01 ? datum.label : ''","gridWidth":{"condition":{"test":"abs(datum.value*1000-round(datum.value*1000))<0.01","value":2},"value":1},"tickOpacity":{"condition":{"test":"abs(datum.value*1000-round(datum.value*1000))<0.01","value":1},"value":0}}},
"y":{"field":"radiance","type":"quantitative","title":"mean radiance","scale":{"domain":[-0.81,23.88],"nice":false,"zero":false},
"axis":{"values":[0,2.5,5,7.5,10,12.5,15,17.5,20,22.5],"format":"d","labelExpr":"datum.value % 5 == 0 ? datum.label : ''","gridWidth":{"condition":{"test":"datum.value % 5 == 0","value":2},"value":1},"tickOpacity":{"condition":{"test":"datum.value % 5 == 0","value":1},"value":0}}},
"color":{"field":"footprint","type":"nominal","title":"footprint","scale":{"domain":["1","2","3","4","5","6","7","8"],"range":["#F8766D","#CD9600","#7CAE00","#00BE67","#00BFC4","#00A9FF","#C77CFF","#FF61CC"]}}
}
},
{
"width":423,"height":397,
"data":{"name":"right"},
"transform":[{"fold":["1","2","3","4","5","6","7","8"],"as":["footprint","radiance"]}],
"mark":{"type":"line","strokeWidth":1.9},
"encoding":{
"x":{"field":"w","type":"quantitative","title":"wavelength","scale":{"domain":[0.7586,0.77206],"nice":false,"zero":false},
"axis":{"values":[0.759,0.7605,0.762,0.7635,0.765,0.7665,0.768,0.7695,0.771],"format":".3f","labelExpr":"abs(datum.value*1000-round(datum.value*1000))<0.01 ? datum.label : ''","gridWidth":{"condition":{"test":"abs(datum.value*1000-round(datum.value*1000))<0.01","value":2},"value":1},"tickOpacity":{"condition":{"test":"abs(datum.value*1000-round(datum.value*1000))<0.01","value":1},"value":0}}},
"y":{"field":"radiance","type":"quantitative","title":"mean radiance","scale":{"domain":[-0.81,23.88],"nice":false,"zero":false},
"axis":{"values":[0,2.5,5,7.5,10,12.5,15,17.5,20,22.5],"format":"d","labelExpr":"datum.value % 5 == 0 ? datum.label : ''","gridWidth":{"condition":{"test":"datum.value % 5 == 0","value":2},"value":1},"tickOpacity":{"condition":{"test":"datum.value % 5 == 0","value":1},"value":0}}},
"color":{"field":"footprint","type":"nominal","title":"footprint","scale":{"domain":["1","2","3","4","5","6","7","8"],"range":["#F8766D","#CD9600","#7CAE00","#00BE67","#00BFC4","#00A9FF","#C77CFF","#FF61CC"]}}
}
}
]
}
